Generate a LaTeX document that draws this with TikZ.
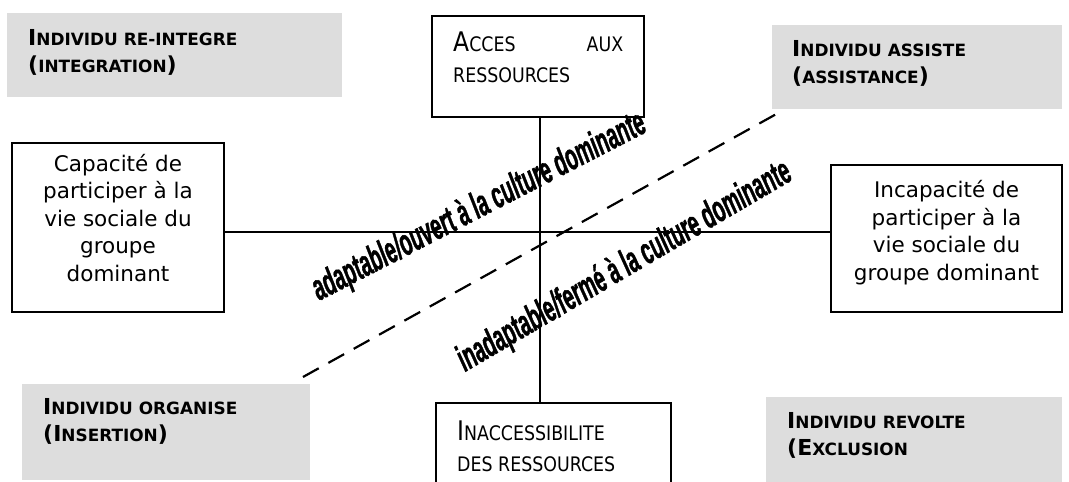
\documentclass[tikz,border=0pt]{standalone}
\usepackage{fontspec}
\setmainfont{DejaVu Sans}
\newfontfamily\verdfont{DejaVu Sans}
\newfontfamily\tahfont[FakeStretch=0.87]{DejaVu Sans}
\newfontfamily\wafont[FakeBold=1.6]{Liberation Sans}
\definecolor{boxgray}{RGB}{221,221,221}
\newcommand\gB[1]{{\fontsize{22}{27}\selectfont #1}}
\newcommand\gS[1]{{\fontsize{16.9}{27}\selectfont #1}}
\newcommand\tB[1]{{\fontsize{27}{31}\selectfont #1}}
\newcommand\tS[1]{{\fontsize{20}{31}\selectfont #1}}
\tikzset{
 wbox/.style={draw=black, line width=1.8pt, fill=white, inner sep=0pt, outer sep=0pt, anchor=north west},
 gbox/.style={fill=boxgray, draw=none, inner sep=0pt, outer sep=0pt, anchor=north west},
 gtext/.style={anchor=north west, inner sep=0pt, align=left, font=\verdfont\bfseries\fontsize{22}{27}\selectfont},
 stext/.style={anchor=north west, inner sep=0pt, font=\tahfont\fontsize{27}{31}\selectfont},
 btext/.style={anchor=north, inner sep=0pt, align=center, font=\verdfont\fontsize{21.5}{27.5}\selectfont},
 wart/.style={anchor=base west, inner sep=0pt, font=\wafont\bfseries\itshape\fontsize{37}{37}\selectfont},
 axisline/.style={line width=1.8pt},
 sepline/.style={line width=2.2pt, dash pattern=on 18pt off 11pt},
}
\begin{document}
\begin{tikzpicture}[x=1pt,y=-1pt]
\useasboundingbox (0,0) rectangle (1069,482);
\clip (0,0) rectangle (1069,482);
% gray quadrant boxes
\node[gbox, minimum width=335, minimum height=84] (g1) at (7,13) {};
\node[gbox, minimum width=290, minimum height=84] (g2) at (772,25) {};
\node[gbox, minimum width=288, minimum height=96] (g3) at (22,384) {};
\node[gbox, minimum width=296, minimum height=85] (g4) at (766,397) {};
\node[gtext] (g1t) at (28,29) {\gB{I}\gS{NDIVIDU RE-INTEGRE}\\\gB{(}\gS{INTEGRATION}\gB{)}};
\node[gtext] (g2t) at (792,40) {\gB{I}\gS{NDIVIDU ASSISTE}\\\gB{(}\gS{ASSISTANCE}\gB{)}};
\node[gtext] (g3t) at (43,398) {\gB{I}\gS{NDIVIDU ORGANISE}\\\gB{(I}\gS{NSERTION}\gB{)}};
\node[gtext] (g4t) at (787,412) {\gB{I}\gS{NDIVIDU REVOLTE}\\\gB{(E}\gS{XCLUSION}};
% white boxes
\node[wbox, minimum width=212, minimum height=101] (acc) at (432,16) {};
\node[wbox, minimum width=235, minimum height=100] (inacc) at (436,403) {};
\node[wbox, minimum width=212, minimum height=169] (cap) at (12,143) {};
\node[wbox, minimum width=231, minimum height=147] (incap) at (831,165) {};
\node[stext, text width=170, align=left] (acct) at (453,32) {\tB{A}\tS{CCES}\hfill\tS{AUX}\\\tS{RESSOURCES}};
\node[stext, align=left] (inacct) at (457,421) {\tB{I}\tS{NACCESSIBILITE}\\\tS{DES RESSOURCES}};
\node[btext] (capt) at (118,154) {Capacité de\\participer à la\\vie sociale du\\groupe\\dominant};
\node[btext] (incapt) at (946.5,180.5) {Incapacité de\\participer à la\\vie sociale du\\groupe dominant};
% axes
\coordinate (vx) at (540,0);
\coordinate (hy) at (0,232);
\draw[axisline] (acc.south -| vx) -- (inacc.north -| vx);
\draw[axisline] (cap.east |- hy) -- (incap.west |- hy);
% dashed separator
\coordinate (d1) at (303,377);
\coordinate (d2) at (780,112);
\draw[sepline] (d1) -- (d2);
% slanted labels
\node[wart, rotate=27.3] (ouv) at (319,301) {\scalebox{0.53}[1]{adaptable/ouvert à la culture dominante}};
\node[wart, rotate=30.4] (fer) at (465,372) {\scalebox{0.53}[1]{inadaptable/fermé à la culture dominante}};
\end{tikzpicture}
\end{document}
